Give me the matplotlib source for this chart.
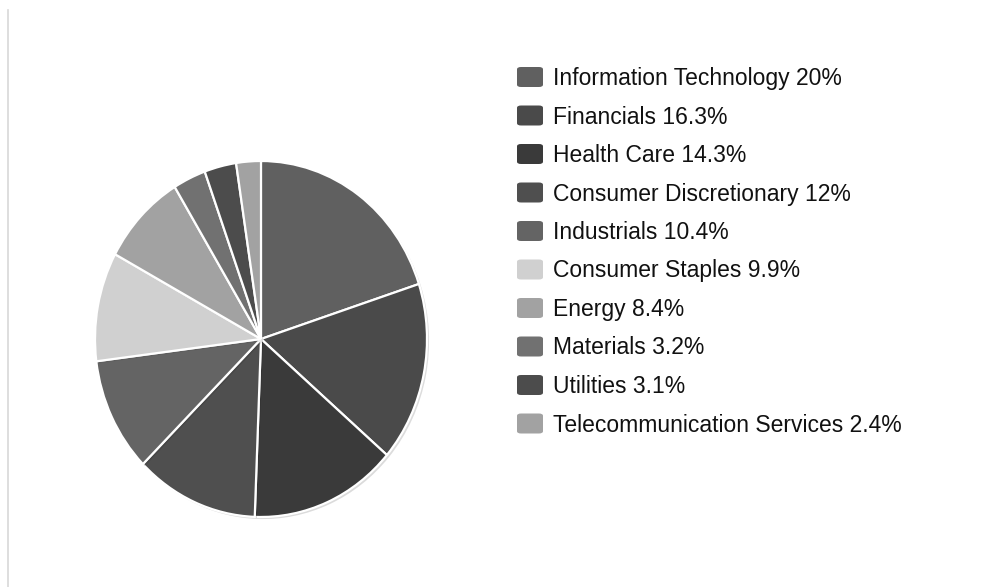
import matplotlib.pyplot as plt
from matplotlib.patches import FancyBboxPatch
import matplotlib.patheffects as pe

# === DATA ===
sectors = ["Information Technology", "Financials", "Health Care",
           "Consumer Discretionary", "Industrials", "Consumer Staples",
           "Energy", "Materials", "Utilities", "Telecommunication Services"]
weights = [20, 16.3, 14.3, 12, 10.4, 9.9, 8.4, 3.2, 3.1, 2.4]
pct_labels = ["20%", "16.3%", "14.3%", "12%", "10.4%", "9.9%",
              "8.4%", "3.2%", "3.1%", "2.4%"]
colors = ["#606060", "#4a4a4a", "#3a3a3a", "#4f4f4f", "#646464",
          "#d0d0d0", "#a2a2a2", "#717171", "#4c4c4c", "#a2a2a2"]
# ============

plt.rcParams["font.family"] = ["Liberation Sans", "DejaVu Sans"]

fig = plt.figure(figsize=(10.04, 5.87), dpi=100)
W, H = 1004, 587

# pie axes: centre ~(261, 339) px, radii ~165 x 177
ax = fig.add_axes([(261 - 166) / W, 1 - (339 + 178) / H, 332 / W, 356 / H])
wedges, _ = ax.pie(weights, colors=colors, startangle=90, counterclock=False,
                   radius=1.0,
                   wedgeprops=dict(edgecolor="white", linewidth=1.6))
for w in wedges:
    w.set_path_effects([pe.SimplePatchShadow(offset=(1.5, -1.5), alpha=0.15),
                        pe.Normal()])
ax.set_xlim(-1.0, 1.0)
ax.set_ylim(-1.0, 1.0)
ax.set_aspect("auto")
ax.axis("off")

# left edge line
fig.add_artist(plt.Line2D([8.5 / W, 8.5 / W], [0, 1 - 10 / H],
                          color="#d8d8d8", linewidth=1.2))

# legend drawn manually
y0 = 77
step = 38.5
for i, (name, p, c) in enumerate(zip(sectors, pct_labels, colors)):
    yc = y0 + i * step
    box = FancyBboxPatch(((517) / W, 1 - (yc + 10) / H), 26 / W, 20 / H,
                         boxstyle="round,pad=0,rounding_size=0.004",
                         transform=fig.transFigure, facecolor=c,
                         edgecolor="none")
    fig.add_artist(box)
    fig.text(553 / W, 1 - (yc + 1.5) / H, f"{name} {p}", fontsize=16.5,
             va="center", ha="left", color="#111111")

fig.savefig("out.png", dpi=100, facecolor="white")
